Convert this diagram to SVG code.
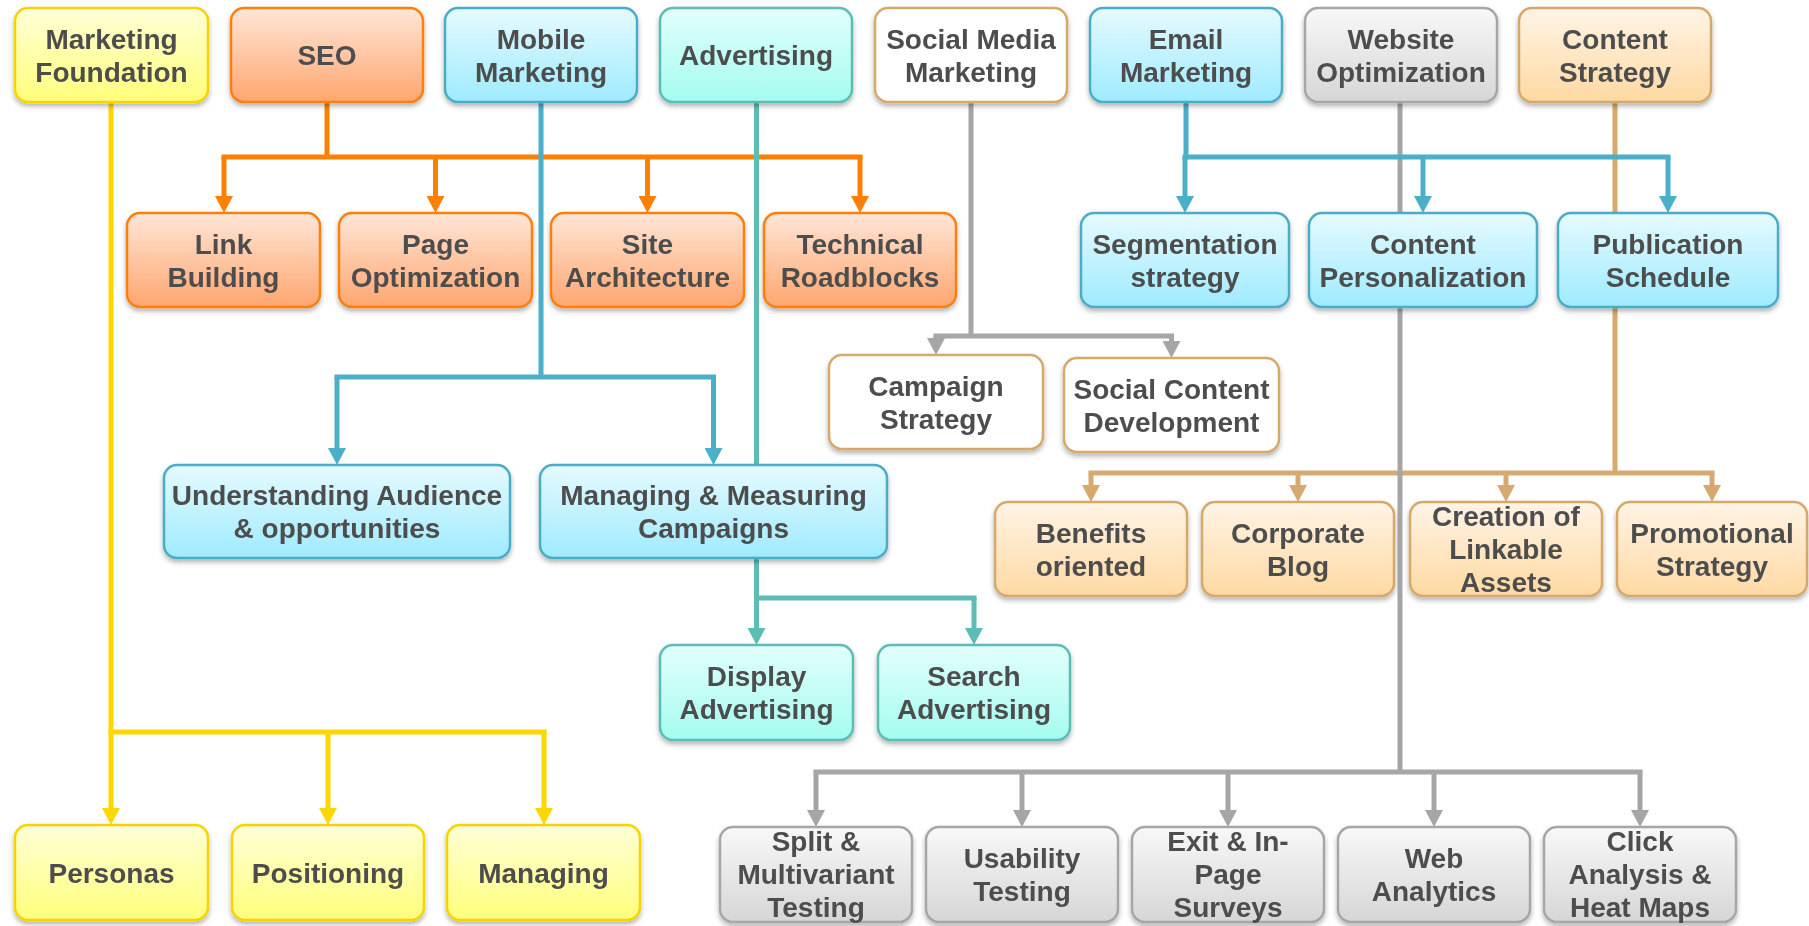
<svg xmlns="http://www.w3.org/2000/svg" width="1809" height="926" viewBox="0 0 1809 926">
<style>
.t{font-family:"Liberation Sans",Arial,sans-serif;font-weight:bold;font-size:28px;fill:#4D4D4D;text-anchor:middle}
.b{stroke-width:2.5}
.yl{fill:url(#gY);stroke:#F9D300}
.or{fill:url(#gO);stroke:#FF7F0E}
.bl{fill:url(#gB);stroke:#4BACC6}
.tl{fill:url(#gT);stroke:#5BBDB4}
.gr{fill:url(#gG);stroke:#A6A6A6}
.tn{fill:url(#gN);stroke:#D6A96B}
.wh{fill:#FFFFFF;stroke:#D6A96B}
.c{fill:none;stroke-width:5}
.h{stroke-linecap:square}
.cY{stroke:#FFD700}.cO{stroke:#FF8000}.cB{stroke:#4BAFCA}.cT{stroke:#5CBDB5}.cG{stroke:#A6A6A6}.cN{stroke:#D6AA6E}
</style>
<defs>
<linearGradient id="gY" x1="0" y1="0" x2="0" y2="1"><stop offset="0" stop-color="#FFFFD8"/><stop offset="1" stop-color="#FFFF7A"/></linearGradient>
<linearGradient id="gO" x1="0" y1="0" x2="0" y2="1"><stop offset="0" stop-color="#FFE6D8"/><stop offset="1" stop-color="#FFA66E"/></linearGradient>
<linearGradient id="gB" x1="0" y1="0" x2="0" y2="1"><stop offset="0" stop-color="#E6FAFF"/><stop offset="1" stop-color="#9EEBFF"/></linearGradient>
<linearGradient id="gT" x1="0" y1="0" x2="0" y2="1"><stop offset="0" stop-color="#E2FFFB"/><stop offset="1" stop-color="#A4FCF0"/></linearGradient>
<linearGradient id="gG" x1="0" y1="0" x2="0" y2="1"><stop offset="0" stop-color="#F8F8F8"/><stop offset="1" stop-color="#D6D6D6"/></linearGradient>
<linearGradient id="gN" x1="0" y1="0" x2="0" y2="1"><stop offset="0" stop-color="#FFF4E6"/><stop offset="1" stop-color="#FFD9A2"/></linearGradient>
<filter id="sh" x="-10%" y="-10%" width="120%" height="135%"><feDropShadow dx="0" dy="3" stdDeviation="2.5" flood-color="#000" flood-opacity="0.3"/></filter>
<marker id="mY" markerWidth="18" markerHeight="18" refX="6" refY="9" orient="auto" markerUnits="userSpaceOnUse"><path d="M0,0 L17,9 L0,18 z" fill="#FFD700"/></marker>
<marker id="mO" markerWidth="18" markerHeight="18" refX="6" refY="9" orient="auto" markerUnits="userSpaceOnUse"><path d="M0,0 L17,9 L0,18 z" fill="#FF8000"/></marker>
<marker id="mB" markerWidth="18" markerHeight="18" refX="6" refY="9" orient="auto" markerUnits="userSpaceOnUse"><path d="M0,0 L17,9 L0,18 z" fill="#4BAFCA"/></marker>
<marker id="mT" markerWidth="18" markerHeight="18" refX="6" refY="9" orient="auto" markerUnits="userSpaceOnUse"><path d="M0,0 L17,9 L0,18 z" fill="#5CBDB5"/></marker>
<marker id="mG" markerWidth="18" markerHeight="18" refX="6" refY="9" orient="auto" markerUnits="userSpaceOnUse"><path d="M0,0 L17,9 L0,18 z" fill="#A6A6A6"/></marker>
<marker id="mN" markerWidth="18" markerHeight="18" refX="6" refY="9" orient="auto" markerUnits="userSpaceOnUse"><path d="M0,0 L17,9 L0,18 z" fill="#D6AA6E"/></marker>
</defs>
<g id="connectors">
<g class="c cY">
<path d="M111,102 V814" marker-end="url(#mY)"/>
<path class="h" d="M111,732 H544"/>
<path d="M328,732 V814" marker-end="url(#mY)"/>
<path d="M544,732 V814" marker-end="url(#mY)"/>
</g>
<g class="c cO">
<path d="M327,102 V157"/>
<path class="h" d="M224,157 H860"/>
<path d="M224,157 V202" marker-end="url(#mO)"/>
<path d="M435.5,157 V202" marker-end="url(#mO)"/>
<path d="M647.5,157 V202" marker-end="url(#mO)"/>
<path d="M860,157 V202" marker-end="url(#mO)"/>
</g>
<g class="c cB">
<path d="M541,102 V377"/>
<path class="h" d="M337,377 H713.5"/>
<path d="M337,377 V454" marker-end="url(#mB)"/>
<path d="M713.5,377 V454" marker-end="url(#mB)"/>
</g>
<g class="c cT">
<path d="M756.5,102 V470"/>
<path d="M756.5,555 V598"/>
<path class="h" d="M756.5,598 H974"/>
<path d="M756.5,598 V634" marker-end="url(#mT)"/>
<path d="M974,598 V634" marker-end="url(#mT)"/>
</g>
<g class="c cG">
<path d="M971,102 V336"/>
<path class="h" d="M936,336 H1171.5"/>
<path d="M936,336 V344" marker-end="url(#mG)"/>
<path d="M1171.5,336 V347" marker-end="url(#mG)"/>
</g>
<g class="c cN">
<path d="M1615,102 V473"/>
<path class="h" d="M1091,473 H1712"/>
<path d="M1091,473 V491" marker-end="url(#mN)"/>
<path d="M1298,473 V491" marker-end="url(#mN)"/>
<path d="M1506,473 V491" marker-end="url(#mN)"/>
<path d="M1712,473 V491" marker-end="url(#mN)"/>
</g>
<g class="c cG">
<path d="M1400,102 V772"/>
<path class="h" d="M816,772 H1640"/>
<path d="M816,772 V816" marker-end="url(#mG)"/>
<path d="M1022,772 V816" marker-end="url(#mG)"/>
<path d="M1228,772 V816" marker-end="url(#mG)"/>
<path d="M1434,772 V816" marker-end="url(#mG)"/>
<path d="M1640,772 V816" marker-end="url(#mG)"/>
</g>
<g class="c cB">
<path d="M1186,102 V157"/>
<path class="h" d="M1185,157 H1668"/>
<path d="M1185,157 V202" marker-end="url(#mB)"/>
<path d="M1423,157 V202" marker-end="url(#mB)"/>
<path d="M1668,157 V202" marker-end="url(#mB)"/>
</g>
</g>
<g id="nodes" filter="url(#sh)">
<g id="marketing-foundation"><rect class="b yl" x="15" y="8" width="193" height="94" rx="13"/><text class="t" x="111.5" y="49">Marketing</text><text class="t" x="111.5" y="82">Foundation</text></g>
<g id="seo"><rect class="b or" x="231" y="8" width="192" height="94" rx="13"/><text class="t" x="327" y="65">SEO</text></g>
<g id="mobile-marketing"><rect class="b bl" x="445" y="8" width="192" height="94" rx="13"/><text class="t" x="541" y="49">Mobile</text><text class="t" x="541" y="82">Marketing</text></g>
<g id="advertising"><rect class="b tl" x="660" y="8" width="192" height="94" rx="13"/><text class="t" x="756" y="65">Advertising</text></g>
<g id="social-media-marketing"><rect class="b wh" x="875" y="8" width="192" height="94" rx="13"/><text class="t" x="971" y="49">Social Media</text><text class="t" x="971" y="82">Marketing</text></g>
<g id="email-marketing"><rect class="b bl" x="1090" y="8" width="192" height="94" rx="13"/><text class="t" x="1186" y="49">Email</text><text class="t" x="1186" y="82">Marketing</text></g>
<g id="website-optimization"><rect class="b gr" x="1305" y="8" width="192" height="94" rx="13"/><text class="t" x="1401" y="49">Website</text><text class="t" x="1401" y="82">Optimization</text></g>
<g id="content-strategy"><rect class="b tn" x="1519" y="8" width="192" height="94" rx="13"/><text class="t" x="1615" y="49">Content</text><text class="t" x="1615" y="82">Strategy</text></g>

<g id="link-building"><rect class="b or" x="127" y="213" width="193" height="94" rx="13"/><text class="t" x="223.5" y="254">Link</text><text class="t" x="223.5" y="287">Building</text></g>
<g id="page-optimization"><rect class="b or" x="339" y="213" width="193" height="94" rx="13"/><text class="t" x="435.5" y="254">Page</text><text class="t" x="435.5" y="287">Optimization</text></g>
<g id="site-architecture"><rect class="b or" x="551" y="213" width="193" height="94" rx="13"/><text class="t" x="647.5" y="254">Site</text><text class="t" x="647.5" y="287">Architecture</text></g>
<g id="technical-roadblocks"><rect class="b or" x="764" y="213" width="192" height="94" rx="13"/><text class="t" x="860" y="254">Technical</text><text class="t" x="860" y="287">Roadblocks</text></g>
<g id="segmentation-strategy"><rect class="b bl" x="1081" y="213" width="208" height="94" rx="13"/><text class="t" x="1185" y="254">Segmentation</text><text class="t" x="1185" y="287">strategy</text></g>
<g id="content-personalization"><rect class="b bl" x="1309" y="213" width="228" height="94" rx="13"/><text class="t" x="1423" y="254">Content</text><text class="t" x="1423" y="287">Personalization</text></g>
<g id="publication-schedule"><rect class="b bl" x="1558" y="213" width="220" height="94" rx="13"/><text class="t" x="1668" y="254">Publication</text><text class="t" x="1668" y="287">Schedule</text></g>

<g id="campaign-strategy"><rect class="b wh" x="829" y="355" width="214" height="94" rx="13"/><text class="t" x="936" y="396">Campaign</text><text class="t" x="936" y="429">Strategy</text></g>
<g id="social-content-development"><rect class="b wh" x="1064" y="358" width="215" height="94" rx="13"/><text class="t" x="1171.5" y="399">Social Content</text><text class="t" x="1171.5" y="432">Development</text></g>
<g id="understanding-audience"><rect class="b bl" x="164" y="465" width="346" height="93" rx="13"/><text class="t" x="337" y="505">Understanding Audience</text><text class="t" x="337" y="538">&amp; opportunities</text></g>
<g id="managing-measuring"><rect class="b bl" x="540" y="465" width="347" height="93" rx="13"/><text class="t" x="713.5" y="505">Managing &amp; Measuring</text><text class="t" x="713.5" y="538">Campaigns</text></g>

<g id="benefits-oriented"><rect class="b tn" x="995" y="502" width="192" height="94" rx="13"/><text class="t" x="1091" y="543">Benefits</text><text class="t" x="1091" y="576">oriented</text></g>
<g id="corporate-blog"><rect class="b tn" x="1202" y="502" width="192" height="94" rx="13"/><text class="t" x="1298" y="543">Corporate</text><text class="t" x="1298" y="576">Blog</text></g>
<g id="linkable-assets"><rect class="b tn" x="1410" y="502" width="192" height="94" rx="13"/><text class="t" x="1506" y="526">Creation of</text><text class="t" x="1506" y="559">Linkable</text><text class="t" x="1506" y="592">Assets</text></g>
<g id="promotional-strategy"><rect class="b tn" x="1617" y="502" width="190" height="94" rx="13"/><text class="t" x="1712" y="543">Promotional</text><text class="t" x="1712" y="576">Strategy</text></g>

<g id="display-advertising"><rect class="b tl" x="660" y="645" width="193" height="95" rx="13"/><text class="t" x="756.5" y="686">Display</text><text class="t" x="756.5" y="719">Advertising</text></g>
<g id="search-advertising"><rect class="b tl" x="878" y="645" width="192" height="95" rx="13"/><text class="t" x="974" y="686">Search</text><text class="t" x="974" y="719">Advertising</text></g>

<g id="personas"><rect class="b yl" x="15" y="825" width="193" height="95" rx="13"/><text class="t" x="111.5" y="883">Personas</text></g>
<g id="positioning"><rect class="b yl" x="232" y="825" width="192" height="95" rx="13"/><text class="t" x="328" y="883">Positioning</text></g>
<g id="managing"><rect class="b yl" x="447" y="825" width="193" height="95" rx="13"/><text class="t" x="543.5" y="883">Managing</text></g>

<g id="split-testing"><rect class="b gr" x="720" y="827" width="192" height="95" rx="13"/><text class="t" x="816" y="851">Split &amp;</text><text class="t" x="816" y="884">Multivariant</text><text class="t" x="816" y="917">Testing</text></g>
<g id="usability-testing"><rect class="b gr" x="926" y="827" width="192" height="95" rx="13"/><text class="t" x="1022" y="868">Usability</text><text class="t" x="1022" y="901">Testing</text></g>
<g id="exit-surveys"><rect class="b gr" x="1132" y="827" width="192" height="95" rx="13"/><text class="t" x="1228" y="851">Exit &amp; In-</text><text class="t" x="1228" y="884">Page</text><text class="t" x="1228" y="917">Surveys</text></g>
<g id="web-analytics"><rect class="b gr" x="1338" y="827" width="192" height="95" rx="13"/><text class="t" x="1434" y="868">Web</text><text class="t" x="1434" y="901">Analytics</text></g>
<g id="click-analysis"><rect class="b gr" x="1544" y="827" width="192" height="95" rx="13"/><text class="t" x="1640" y="851">Click</text><text class="t" x="1640" y="884">Analysis &amp;</text><text class="t" x="1640" y="917">Heat Maps</text></g>
</g>
</svg>
